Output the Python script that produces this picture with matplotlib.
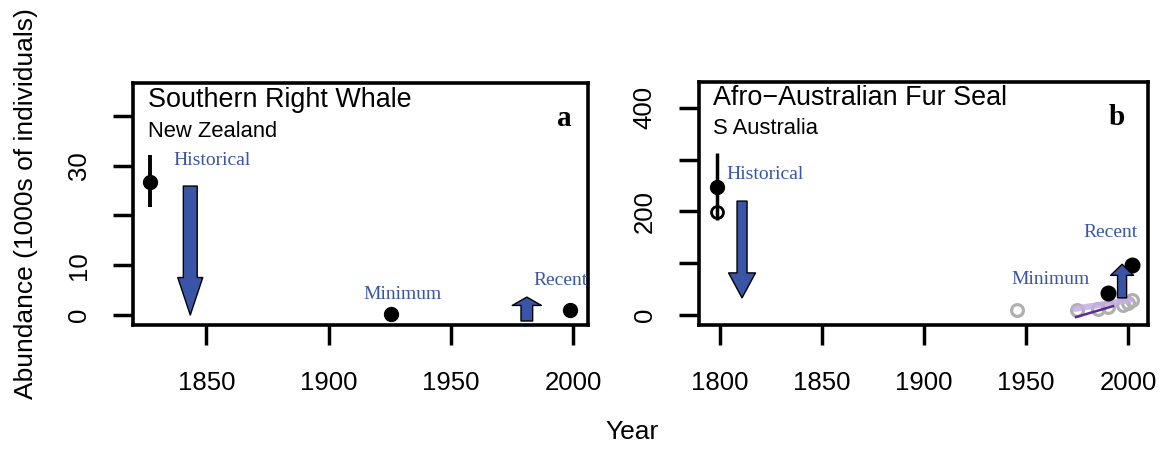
import matplotlib
matplotlib.use("Agg")
import matplotlib.pyplot as plt

# ---------------- data ----------------
# Panel a: Southern Right Whale, New Zealand (1000s)
whale_hist_year = [1827]
whale_hist_val = [26.7]
whale_hist_lo = [21.7]
whale_hist_hi = [32.1]
whale_min_year = [1925.5]
whale_min_val = [0.2]
whale_recent_year = [1998.5]
whale_recent_val = [1.0]
whale_xticks = [1850, 1900, 1950, 2000]
whale_yticks = [0, 10, 20, 30, 40]
whale_ytick_labels = ["0", "10", "", "30", ""]
# arrows: (x, start, end)
whale_arrow_hist = (1843.4, 25.9, 0.0)
whale_arrow_recent = (1981.0, -1.2, 3.6)

# Panel b: Afro-Australian Fur Seal, S Australia (1000s)
seal_hist_year = [1798.5]
seal_hist_val = [247]
seal_hist_open_val = [199]
seal_hist_lo = [184]
seal_hist_hi = [313]
seal_gray_years = [1945.5, 1975, 1985.5, 1990, 1997.5, 2000, 2002]
seal_gray_vals = [10, 10, 11, 15, 20, 24, 28]
seal_black_years = [1990.3, 2002]
seal_black_vals = [42.5, 96]
seal_light_line_years = [1974, 2001]
seal_light_line_vals = [12, 29]
seal_dark_line_years = [1974.5, 1992.6]
seal_dark_line_vals = [-4, 17]
seal_xticks = [1800, 1850, 1900, 1950, 2000]
seal_yticks = [0, 100, 200, 300, 400]
seal_ytick_labels = ["0", "", "200", "", "400"]
seal_arrow_hist = (1810.8, 220, 33)
seal_arrow_recent = (1997.1, 33, 98)

BLUE = "#3a55a5"
SANS = "Liberation Sans"
SERIF = "Liberation Serif"

fig = plt.figure(figsize=(11.65, 4.49), dpi=100)
axa = fig.add_axes([0.1142, 0.2762, 0.3905, 0.539])
axb = fig.add_axes([0.6000, 0.2762, 0.3854, 0.5412])


def style(ax, xticks, yticks, ylabels, xlim, ylim):
    ax.set_xlim(*xlim)
    ax.set_ylim(*ylim)
    ax.set_xticks(xticks)
    ax.set_xticklabels([str(t) for t in xticks], fontsize=18.5, family=SANS)
    ax.set_yticks(yticks)
    ax.set_yticklabels(ylabels, fontsize=18.5, family=SANS, rotation=90, va="center")
    ax.tick_params(axis="x", direction="out", length=14.4, width=2.5, pad=19)
    ax.tick_params(axis="y", direction="out", length=14.4, width=2.5, pad=16)
    for s in ax.spines.values():
        s.set_linewidth(2.6)


def arrow(ax, spec, tail_w, head_w, head_l):
    x, y0, y1 = spec
    ax.annotate("", xy=(x, y1), xytext=(x, y0),
                arrowprops=dict(arrowstyle=f"simple,head_length={head_l},head_width={head_w},tail_width={tail_w}",
                                mutation_scale=1, fc=BLUE, ec="black", lw=1.0,
                                shrinkA=0, shrinkB=0), zorder=6)


# ---------- panel a ----------
style(axa, whale_xticks, whale_yticks, whale_ytick_labels, (1820, 2006), (-2, 46.6))
axa.vlines(whale_hist_year, whale_hist_lo, whale_hist_hi, color="black", lw=2.8, zorder=3)
axa.plot(whale_hist_year, whale_hist_val, "o", color="black", ms=10, zorder=4)
axa.plot(whale_min_year, whale_min_val, "o", color="black", ms=10, zorder=4, clip_on=False)
axa.plot(whale_recent_year, whale_recent_val, "o", color="black", ms=10, zorder=4)
arrow(axa, whale_arrow_hist, 10, 18, 27)
arrow(axa, whale_arrow_recent, 8.4, 21, 6)

axa.text(0.033, 0.93, "Southern Right Whale", transform=axa.transAxes, fontsize=19.4,
         family=SANS, va="center", ha="left")
axa.text(0.033, 0.80, "New Zealand", transform=axa.transAxes, fontsize=15.8,
         family=SANS, va="center", ha="left")
axa.text(0.949, 0.855, "a", transform=axa.transAxes, fontsize=21, family=SERIF,
         weight="bold", va="center", ha="center")
axa.text(1836.4, 31.1, "Historical", color=BLUE, fontsize=14, family=SERIF, va="center", ha="left")
axa.text(1930, 4.2, "Minimum", color=BLUE, fontsize=14, family=SERIF, va="center", ha="center")
axa.text(1983.5, 7.0, "Recent", color=BLUE, fontsize=14, family=SERIF, va="center", ha="left")

# ---------- panel b ----------
style(axb, seal_xticks, seal_yticks, seal_ytick_labels, (1789.7, 2009.8), (-19.3, 450))
axb.vlines(seal_hist_year, seal_hist_lo, seal_hist_hi, color="black", lw=2.5, zorder=3)
axb.plot(seal_hist_year, seal_hist_open_val, "o", mfc="none", mec="black", mew=2.0, ms=8.6, zorder=4)
axb.plot(seal_hist_year, seal_hist_val, "o", color="black", ms=10, zorder=4)
axb.plot(seal_gray_years, seal_gray_vals, "o", mfc="none", mec="#b0b0b0", mew=2.3, ms=8.5, zorder=3)
axb.plot(seal_light_line_years, seal_light_line_vals, color="#c5aee0", lw=4.5, alpha=0.85,
         solid_capstyle="round", zorder=3.5)
axb.plot(seal_dark_line_years, seal_dark_line_vals, color="#5b2c91", lw=1.8, zorder=3.6)
axb.plot(seal_black_years, seal_black_vals, "o", color="black", ms=10.5, zorder=4)
arrow(axb, seal_arrow_hist, 7.2, 19.4, 18)
arrow(axb, seal_arrow_recent, 6.5, 16.5, 8)

axb.text(0.031, 0.934, "Afro\u2212Australian Fur Seal", transform=axb.transAxes, fontsize=19.4,
         family=SANS, va="center", ha="left")
axb.text(0.031, 0.807, "S Australia", transform=axb.transAxes, fontsize=15.8,
         family=SANS, va="center", ha="left")
axb.text(0.931, 0.852, "b", transform=axb.transAxes, fontsize=21, family=SERIF,
         weight="bold", va="center", ha="center")
axb.text(1802.9, 270.5, "Historical", color=BLUE, fontsize=14, family=SERIF, va="center", ha="left")
axb.text(1961.8, 67.6, "Minimum", color=BLUE, fontsize=14, family=SERIF, va="center", ha="center")
axb.text(1991.2, 160, "Recent", color=BLUE, fontsize=14, family=SERIF, va="center", ha="center")

fig.text(0.0223, 0.5457, "Abundance (1000s of individuals)", rotation=90, fontsize=19,
         family=SANS, va="center", ha="center")
fig.text(0.5425, 0.0379, "Year", fontsize=19, family=SANS, va="center", ha="center")

fig.savefig("out.png", dpi=100)
